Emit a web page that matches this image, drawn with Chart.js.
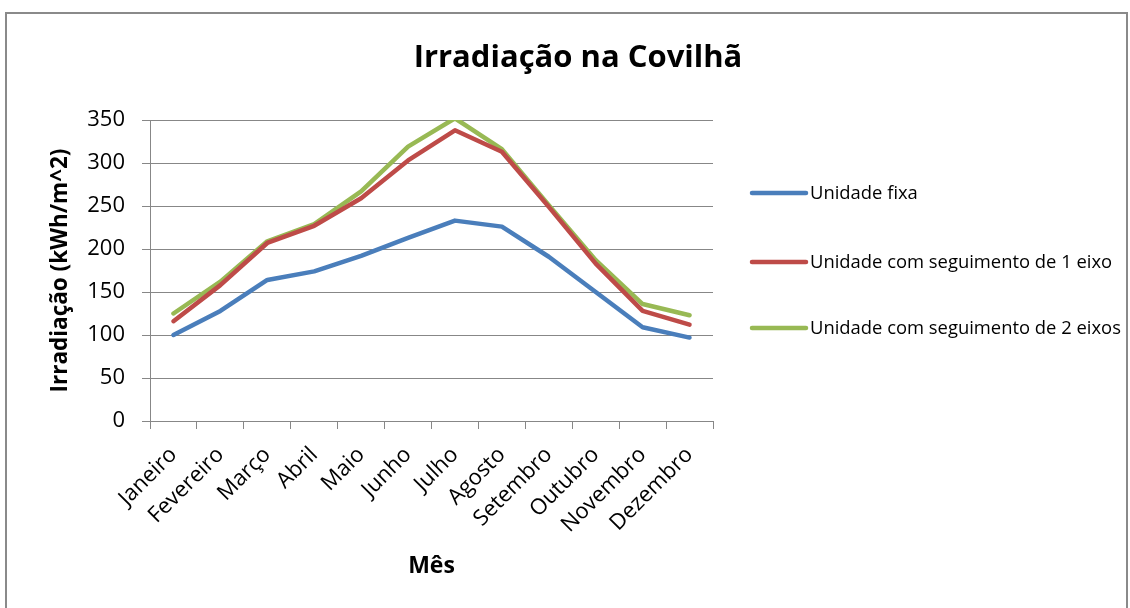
<!DOCTYPE html>
<html>
<head>
<meta charset="utf-8">
<script src="https://cdn.jsdelivr.net/npm/chart.js"></script>
<style>
  html, body { margin: 0; padding: 0; background: #fff; }
  #wrap { position: relative; width: 1130px; height: 608px; }
</style>
</head>
<body>
<div id="wrap"><canvas id="c" width="1130" height="608"></canvas></div>
<script>
const categories = ["Janeiro","Fevereiro","Março","Abril","Maio","Junho","Julho","Agosto","Setembro","Outubro","Novembro","Dezembro"];
const fixa = [100, 128, 164, 174, 192, 213, 233, 226, 191, 150, 109, 97];
const umEixo = [116, 158, 207, 227, 259, 303, 338, 313, 249, 183, 128, 112];
const doisEixos = [125, 162, 209, 229, 267, 319, 352, 316, 251, 187, 136, 123];
const seriesNames = ["Unidade fixa", "Unidade com seguimento de 1 eixo", "Unidade com seguimento de 2 eixos"];
const yTicks = [0, 50, 100, 150, 200, 250, 300, 350];
const colors = ["#4a7ebb", "#be4b48", "#98b954"];

const FONT = "'Open Sans', sans-serif";

const decor = {
  id: 'decor',
  beforeDraw(chart) {
    const ctx = chart.ctx;
    ctx.save();
    ctx.fillStyle = '#fff';
    ctx.fillRect(0, 0, chart.width, chart.height);
    ctx.strokeStyle = '#8a8a8a';
    ctx.lineWidth = 2;
    ctx.strokeRect(6, 13, 1121, 640);
    ctx.restore();
  },
  afterDraw(chart) {
    const ctx = chart.ctx;
    ctx.save();
    ctx.fillStyle = '#000';
    ctx.font = "bold 31px " + FONT;
    ctx.textAlign = 'center';
    ctx.textBaseline = 'middle';
    ctx.fillText("Irradiação na Covilhã", 578, 58);
    const ys = [193, 262, 328];
    ctx.font = "18.4px " + FONT;
    ctx.textAlign = 'left';
    chart.data.datasets.forEach((ds, i) => {
      ctx.strokeStyle = ds.borderColor;
      ctx.lineWidth = 4.5;
      ctx.lineCap = 'round';
      ctx.beginPath();
      ctx.moveTo(752, ys[i]);
      ctx.lineTo(806, ys[i]);
      ctx.stroke();
      ctx.fillStyle = '#000';
      ctx.fillText(ds.label, 810, ys[i] + 1);
    });
    ctx.restore();
  }
};

new Chart(document.getElementById('c'), {
  type: 'line',
  data: {
    labels: categories,
    datasets: [fixa, umEixo, doisEixos].map((d, i) => ({
      label: seriesNames[i],
      data: d,
      borderColor: colors[i],
      backgroundColor: colors[i],
      borderWidth: 4.5,
      pointRadius: 0,
      tension: 0,
      borderCapStyle: 'round',
      borderJoinStyle: 'round'
    }))
  },
  options: {
    responsive: false,
    animation: false,
    layout: { padding: { top: 120, right: 417, left: 0, bottom: 0 } },
    plugins: { legend: { display: false }, title: { display: false }, tooltip: { enabled: false } },
    scales: {
      x: {
        offset: true,
        grid: { offset: true, drawOnChartArea: false, drawTicks: true, tickLength: 8, color: '#878787', lineWidth: 1 },
        border: { color: '#878787', width: 1 },
        ticks: { minRotation: 45, maxRotation: 45, color: '#000', font: { family: FONT, size: 22 }, padding: 13, autoSkip: false },
        title: { display: true, text: 'Mês', color: '#000', font: { family: FONT, size: 23, weight: 'bold' }, padding: { top: 0, bottom: 28 } },
        afterFit(s) { s.height = 187; }
      },
      y: {
        min: 0, max: 350,
        afterBuildTicks(s) { s.ticks = yTicks.map(v => ({ value: v })); },
        grid: { color: '#878787', lineWidth: 1, tickLength: 8 },
        border: { color: '#878787', width: 1 },
        ticks: { color: '#000', font: { family: FONT, size: 22 }, padding: 17 },
        title: { display: true, text: 'Irradiação (kWh/m^2)', color: '#000', font: { family: FONT, size: 22.5, weight: 'bold' }, padding: { top: 47, bottom: 0 } },
        afterFit(s) { s.width = 150; }
      }
    }
  },
  plugins: [decor]
});
</script>
</body>
</html>
